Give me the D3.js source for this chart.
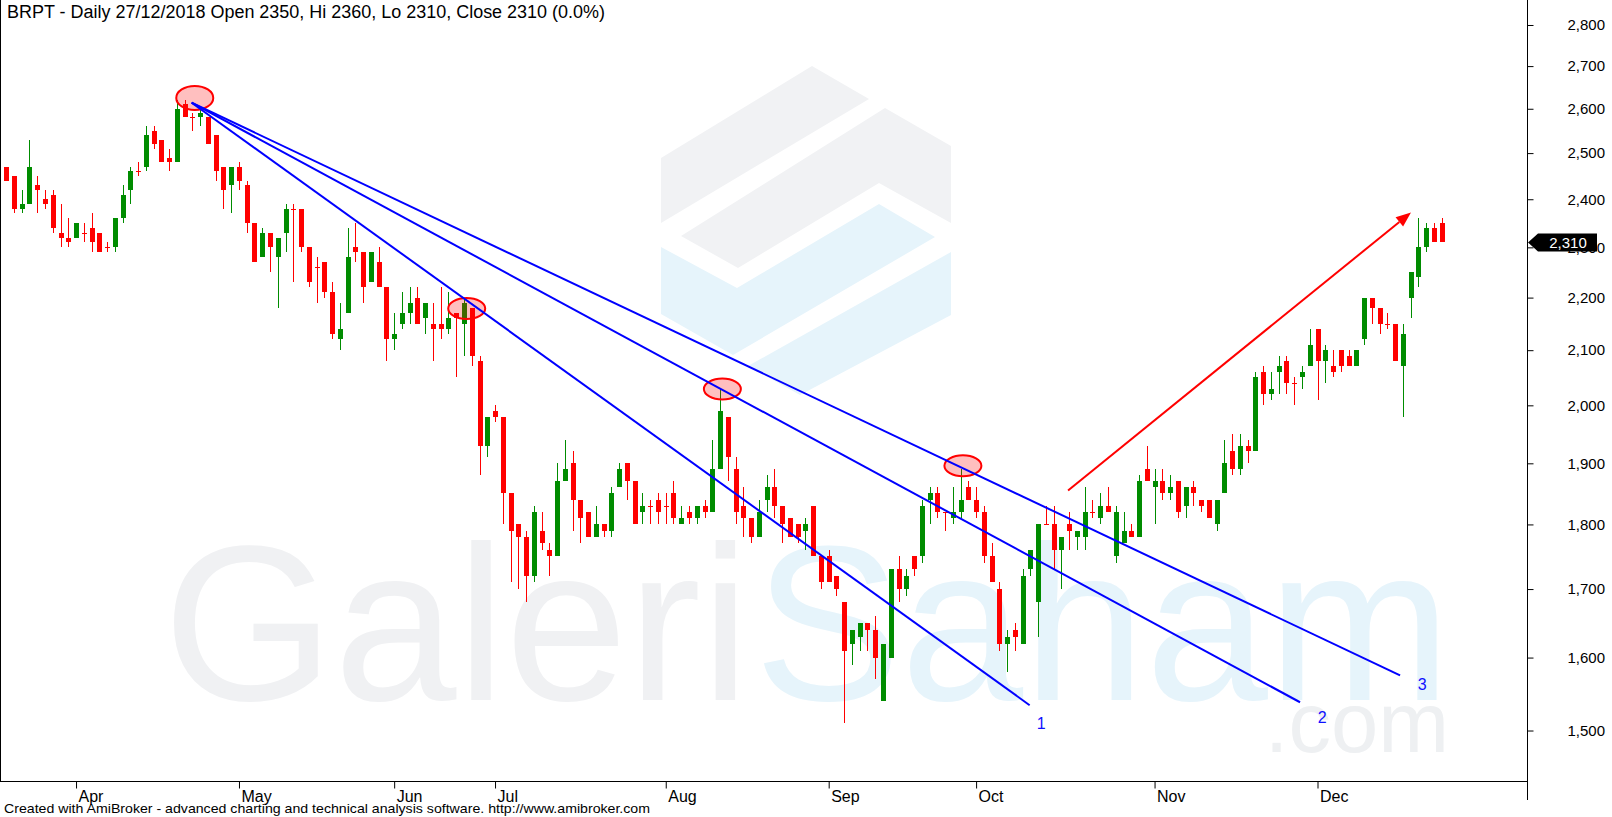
<!DOCTYPE html>
<html>
<head>
<meta charset="utf-8">
<script src="https://cdn.jsdelivr.net/npm/d3@7"></script>
<style>
body{margin:0;background:#fff;}
svg{display:block;font-family:Arial,"Liberation Sans",sans-serif;}
</style>
</head>
<body>
<svg id="chart"></svg>
<script>
var W = 1612, H = 817;
var plotR = 1527, plotB = 781;

// BRPT daily, 19 Mar 2018 .. 27 Dec 2018
var opens = [2470,2450,2380,2390,2430,2400,2410,2330,2320,2320,2330,2340,2330,2300,2300,2360,2420,2460,2470,2550,
 2530,2490,2480,2610,2580,2580,2580,2540,2470,2430,2470,2430,2350,2280,2330,2280,2330,2380,2380,2300,
 2260,2270,2210,2120,2170,2300,2290,2230,2270,2220,2120,2150,2170,2200,2160,2150,2150,2140,2170,2150,
 2180,2080,1930,1990,1980,1850,1800,1780,1720,1790,1760,1750,1870,1900,1840,1820,1780,1800,1790,1860,
 1900,1870,1820,1830,1840,1830,1850,1800,1820,1810,1830,1820,1890,1980,1890,1830,1810,1780,1840,1860,
 1830,1810,1800,1790,1830,1750,1750,1720,1680,1620,1630,1650,1640,1540,1600,1730,1700,1750,1750,1840,
 1850,1820,1810,1820,1860,1840,1820,1750,1700,1620,1640,1620,1730,1680,1800,1800,1760,1800,1780,1780,
 1820,1810,1830,1750,1770,1790,1780,1890,1860,1870,1850,1870,1830,1860,1840,1840,1800,1850,1920,1890,
 1930,1920,2060,2020,2060,2080,2040,2050,2070,2140,2080,2070,2100,2090,2070,2120,2200,2180,2150,2150,
 2070,2200,2240,2300,2340,2350];
var highs = [2470,2450,2420,2530,2450,2420,2420,2390,2360,2350,2350,2370,2330,2310,2360,2430,2470,2480,2560,2560,
 2530,2510,2620,2620,2590,2600,2580,2540,2470,2470,2480,2440,2350,2340,2330,2320,2390,2390,2380,2300,
 2280,2270,2230,2190,2340,2350,2290,2290,2300,2220,2170,2210,2220,2220,2190,2190,2220,2210,2170,2200,
 2180,2090,1980,2000,1980,1850,1800,1790,1830,1820,1770,1900,1940,1920,1840,1820,1830,1800,1860,1900,
 1900,1870,1850,1840,1850,1850,1870,1830,1830,1830,1840,1940,2030,1980,1910,1860,1810,1840,1880,1890,
 1830,1810,1800,1810,1830,1750,1760,1720,1680,1640,1650,1650,1660,1620,1730,1750,1730,1750,1840,1860,
 1860,1820,1860,1890,1870,1860,1830,1770,1710,1640,1650,1730,1760,1800,1830,1830,1780,1820,1790,1860,
 1840,1850,1860,1830,1820,1800,1880,1930,1890,1890,1880,1870,1860,1870,1840,1840,1840,1940,1950,1950,
 1940,2060,2070,2060,2090,2090,2050,2070,2140,2140,2110,2100,2100,2100,2100,2200,2200,2180,2170,2150,
 2150,2250,2360,2350,2350,2360];
var lows = [2440,2370,2370,2390,2370,2380,2330,2300,2300,2320,2310,2290,2290,2290,2290,2350,2390,2450,2460,2510,
 2480,2460,2480,2580,2550,2560,2520,2440,2380,2370,2420,2330,2270,2280,2250,2180,2290,2230,2290,2220,
 2190,2200,2120,2100,2170,2270,2190,2230,2220,2080,2100,2140,2150,2150,2130,2080,2120,2130,2050,2090,
 2070,1880,1910,1970,1800,1710,1700,1680,1710,1760,1720,1750,1870,1790,1770,1780,1780,1780,1780,1860,
 1840,1800,1800,1800,1800,1800,1800,1800,1800,1800,1810,1820,1890,1870,1800,1780,1770,1780,1820,1810,
 1770,1780,1770,1760,1750,1700,1710,1690,1510,1590,1610,1610,1570,1540,1600,1680,1690,1720,1740,1800,
 1810,1790,1800,1810,1840,1810,1740,1710,1610,1580,1610,1620,1720,1630,1800,1730,1700,1760,1760,1760,
 1810,1800,1820,1740,1770,1780,1780,1870,1800,1840,1840,1810,1810,1830,1820,1810,1790,1850,1880,1880,
 1900,1920,2000,2010,2020,2020,2000,2030,2070,2010,2040,2050,2060,2070,2070,2110,2150,2130,2140,2080,
 1980,2160,2220,2290,2310,2310];
var closes = [2440,2380,2390,2470,2420,2390,2340,2320,2310,2350,2330,2310,2290,2300,2360,2410,2460,2460,2540,2520,
 2480,2480,2600,2580,2580,2590,2520,2460,2420,2470,2440,2350,2270,2330,2300,2320,2380,2380,2300,2230,
 2260,2210,2130,2140,2280,2290,2220,2290,2220,2120,2130,2170,2190,2150,2190,2140,2140,2160,2160,2190,
 2090,1930,1980,1980,1850,1790,1780,1720,1820,1770,1750,1870,1890,1840,1810,1780,1800,1790,1850,1890,
 1870,1800,1830,1830,1820,1830,1810,1810,1810,1830,1820,1890,1990,1910,1820,1810,1780,1820,1860,1830,
 1800,1780,1780,1800,1750,1710,1710,1700,1610,1640,1650,1640,1600,1620,1730,1700,1720,1730,1830,1850,
 1820,1820,1820,1840,1840,1820,1750,1710,1620,1630,1630,1720,1760,1800,1800,1760,1780,1790,1790,1820,
 1820,1830,1820,1820,1790,1780,1870,1870,1870,1850,1860,1820,1860,1850,1830,1810,1840,1900,1890,1930,
 1920,2050,2020,2030,2070,2040,2040,2060,2110,2080,2100,2060,2070,2070,2100,2200,2180,2150,2150,2080,
 2130,2250,2300,2340,2310,2310];

var monthLabels = ["Apr","May","Jun","Jul","Aug","Sep","Oct","Nov","Dec"];
var monthStarts = [9,30,50,63,85,106,125,148,169];
var priceTicks = [1500,1600,1700,1800,1900,2000,2100,2200,2300,2400,2500,2600,2700,2800];
var lastClose = 2310;

// hand-drawn studies, as [bar index, price]
var trendFrom = [23.9, 2614];
var trendTo = [[131.9, 1534], [166.75, 1538], [179.64, 1575]];
var trendNames = ["1", "2", "3"];
var trendNameAt = [[133.4, 1509], [169.6, 1518], [182.5, 1562]];
var markAt = [[24.3, 2625], [59.35, 2179], [92.3, 2029], [123.3, 1896]];
var arrowFrom = [136.85, 1855], arrowTo = [181.05, 2372];

var title = "BRPT - Daily 27/12/2018 Open 2350, Hi 2360, Lo 2310, Close 2310 (0.0%)";
var footer = "Created with AmiBroker - advanced charting and technical analysis software. http://www.amibroker.com";

var svg = d3.select("#chart").attr("width", W).attr("height", H);

var x = d3.scaleLinear().domain([-0.8, 196]).range([0, plotR]);
var y = d3.scaleLog().domain([1434.5, 2862.6]).range([plotB, 0]);

// watermark
var wm = svg.append("g");
var gray = "#f1f2f4", blue = "#e6f4fb";
var shapes = [
	{c: gray, p: [[661,158],[812,66],[869,99],[661,223]]},
	{c: gray, p: [[681,236],[885,108],[951,146],[951,223],[879,183],[738,268]]},
	{c: blue, p: [[661,247],[737,288],[879,204],[935,237],[733,355],[661,314]]},
	{c: blue, p: [[951,252],[951,315],[800,395],[748,366]]}
];
shapes.forEach(function(s){
	wm.append("polygon").attr("points", s.p.map(function(d){return d.join(",");}).join(" ")).attr("fill", s.c);
});
wm.append("text").attr("x", 163).attr("y", 700).attr("font-size", 220).attr("fill", "#f0f1f3").text("Galeri");
wm.append("text").attr("x", 754).attr("y", 700).attr("font-size", 220).attr("fill", blue).text("Saham");
wm.append("text").attr("x", 1449).attr("y", 752).attr("font-size", 85).attr("text-anchor", "end").attr("fill", "#eef0f2").text(".com");

// candles
var bars = d3.range(closes.length).map(function(i){
	return {i: i, o: opens[i], h: highs[i], l: lows[i], c: closes[i]};
});
var cg = svg.append("g").attr("shape-rendering", "crispEdges");
var candle = cg.selectAll("g").data(bars).enter().append("g")
	.attr("fill", function(d){ return d.c > d.o ? "#008c00" : "#ff0000"; });
candle.append("rect")
	.attr("x", function(d){ return Math.round(x(d.i)); })
	.attr("width", 1)
	.attr("y", function(d){ return y(d.h); })
	.attr("height", function(d){ return Math.max(1, y(d.l) - y(d.h)); });
candle.append("rect")
	.attr("x", function(d){ return Math.round(x(d.i)) - 2; })
	.attr("width", 5)
	.attr("y", function(d){ return y(Math.max(d.o, d.c)); })
	.attr("height", function(d){ return Math.max(1, y(Math.min(d.o, d.c)) - y(Math.max(d.o, d.c))); });

// marked highs
svg.append("g").selectAll("ellipse").data(markAt).enter().append("ellipse")
	.attr("cx", function(d){ return x(d[0]); })
	.attr("cy", function(d){ return y(d[1]); })
	.attr("rx", 18.5).attr("ry", function(d, i){ return i == 0 ? 12 : 10.5; })
	.attr("fill", "rgba(255,0,0,0.25)").attr("stroke", "#ff0000").attr("stroke-width", 2);

// trend lines
var tg = svg.append("g");
tg.selectAll("line").data(trendTo).enter().append("line")
	.attr("x1", x(trendFrom[0])).attr("y1", y(trendFrom[1]))
	.attr("x2", function(d){ return x(d[0]); })
	.attr("y2", function(d){ return y(d[1]); })
	.attr("stroke", "#0000ff").attr("stroke-width", 2);
tg.selectAll("text").data(trendNameAt).enter().append("text")
	.attr("x", function(d){ return x(d[0]); })
	.attr("y", function(d){ return y(d[1]); })
	.attr("dy", "0.35em").attr("text-anchor", "middle")
	.attr("font-size", 16).attr("fill", "#1010ff")
	.text(function(d, i){ return trendNames[i]; });

// arrow
var ax1 = x(arrowFrom[0]), ay1 = y(arrowFrom[1]), ax2 = x(arrowTo[0]), ay2 = y(arrowTo[1]);
var ang = Math.atan2(ay2 - ay1, ax2 - ax1);
var hl = 15, hw = 6;
var bx = ax2 - hl * Math.cos(ang), by = ay2 - hl * Math.sin(ang);
svg.append("line").attr("x1", ax1).attr("y1", ay1).attr("x2", bx).attr("y2", by)
	.attr("stroke", "#ff0000").attr("stroke-width", 2);
svg.append("polygon")
	.attr("points", [[ax2, ay2], [bx - hw * Math.sin(ang), by + hw * Math.cos(ang)], [bx + hw * Math.sin(ang), by - hw * Math.cos(ang)]].map(function(d){return d.join(",");}).join(" "))
	.attr("fill", "#ff0000");

// axes
var yAxis = d3.axisRight(y).tickValues(priceTicks).tickFormat(d3.format(",")).tickSize(6).tickSizeOuter(0).tickPadding(34);
var ya = svg.append("g").attr("transform", "translate(" + (plotR + 0.5) + ",0)").call(yAxis);
ya.select(".domain").remove();
ya.selectAll("text").attr("font-family", "Arial").attr("font-size", 15).attr("fill", "#000");

var xAxis = d3.axisBottom(x).tickValues(monthStarts).tickFormat(function(d, i){ return monthLabels[i]; }).tickSize(7).tickSizeOuter(0).tickPadding(2);
var xa = svg.append("g").attr("transform", "translate(0," + (plotB + 0.5) + ")").call(xAxis);
xa.select(".domain").remove();
xa.selectAll("text").attr("font-family", "Arial").attr("font-size", 16).attr("fill", "#000")
	.attr("text-anchor", "start").attr("dx", 2);

// frame
svg.append("line").attr("x1", 0.5).attr("x2", 0.5).attr("y1", 0).attr("y2", plotB).attr("stroke", "#000");
svg.append("line").attr("x1", 0).attr("x2", plotR + 0.5).attr("y1", plotB + 0.5).attr("y2", plotB + 0.5).attr("stroke", "#000");
svg.append("line").attr("x1", plotR + 0.5).attr("x2", plotR + 0.5).attr("y1", 0).attr("y2", 800).attr("stroke", "#000");

// last price tag
var ly = y(lastClose);
svg.append("polygon")
	.attr("points", [[plotR + 1, ly], [plotR + 11, ly - 9], [plotR + 70, ly - 9], [plotR + 70, ly + 9], [plotR + 11, ly + 9]].map(function(d){return d.join(",");}).join(" "))
	.attr("fill", "#000");
svg.append("text").attr("x", plotR + 41).attr("y", ly).attr("dy", "0.36em").attr("text-anchor", "middle")
	.attr("font-size", 15).attr("fill", "#fff").text(d3.format(",")(lastClose));

// texts
svg.append("text").attr("x", 7).attr("y", 18).attr("font-size", 18).attr("textLength", 598).attr("lengthAdjust", "spacingAndGlyphs").text(title);
svg.append("text").attr("x", 4).attr("y", 813).attr("font-size", 13).attr("textLength", 646).attr("lengthAdjust", "spacingAndGlyphs").text(footer);
</script>
</body>
</html>
